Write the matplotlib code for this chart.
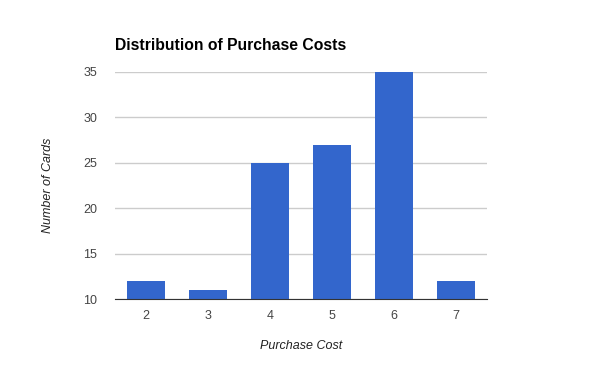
import matplotlib
matplotlib.use('Agg')
import matplotlib.pyplot as plt

# data
costs = ['2', '3', '4', '5', '6', '7']
cards = [12, 11, 25, 27, 35, 12]
y_ticks = [10, 15, 20, 25, 30, 35]

plt.rcParams['font.family'] = ['Liberation Sans', 'DejaVu Sans']

fig = plt.figure(figsize=(6, 3.71), dpi=100)
ax = fig.add_axes([115 / 600, 72 / 371, 372 / 600, 227 / 371])

x = range(len(costs))
ax.bar(x, [c - 10 for c in cards], bottom=10, width=0.61,
       color='#3366cc', zorder=3)

ax.set_xlim(-0.5, len(costs) - 0.5)
ax.set_ylim(10, 35)
ax.set_yticks(y_ticks)
ax.set_xticks(list(x))
ax.set_xticklabels(costs)

ax.grid(axis='y', color='#cccccc', linewidth=1, zorder=0)
for side in ['top', 'right', 'left']:
    ax.spines[side].set_visible(False)
ax.spines['bottom'].set_color('#333333')
ax.spines['bottom'].set_zorder(4)
ax.tick_params(length=0, labelsize=9, labelcolor='#444444')
ax.tick_params(axis='y', pad=13)
ax.tick_params(axis='x', pad=8)

ax.set_xlabel('Purchase Cost', fontsize=9, style='italic',
              color='#222222', labelpad=13)
ax.set_ylabel('Number of Cards', fontsize=9, style='italic',
              color='#222222', labelpad=21)

fig.text(115 / 600, 1 - 45 / 371, 'Distribution of Purchase Costs',
         fontsize=11.3, fontweight='bold', color='#000000', va='center')

fig.savefig('out.png', dpi=100)
